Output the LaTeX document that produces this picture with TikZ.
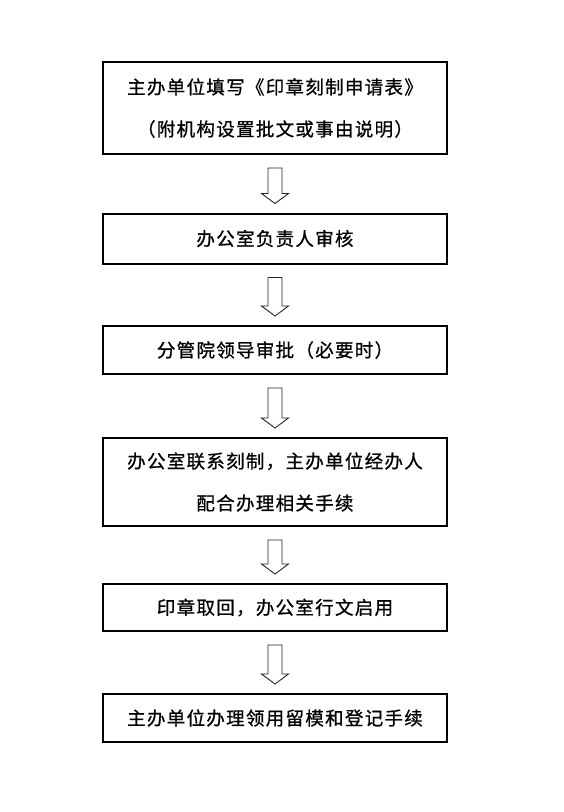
\documentclass[tikz,border=0pt]{standalone}
\usepackage{fontspec}
\newfontfamily\cjk[LetterSpace=7,FakeBold=0.8]{Noto Sans CJK SC}
\usetikzlibrary{calc}
\tikzset{
  stepbox/.style={draw,line width=2pt,minimum width=344pt,inner sep=0pt,
    align=center,font=\fontsize{18.5}{42}\selectfont\cjk},
  hollow/.style={draw=black!85,line width=0.9pt,line join=miter}
}
% hollow block arrow from the bottom of one box to the top of the next
\newcommand\flowarrow[2]{%
  \draw[hollow] ($(#1.south)+(-7,13)$) -- ($(#1.south)+(7,13)$)
    -- ($(#2.north)+(7,-19)$) -- ($(#2.north)+(13.5,-19)$)
    -- ($(#2.north)+(0,-9)$) -- ($(#2.north)+(-13.5,-19)$)
    -- ($(#2.north)+(-7,-19)$) -- cycle;}

\begin{document}
\begin{tikzpicture}[x=1pt,y=-1pt]
\useasboundingbox (0,0) rectangle (564,812);
% the six steps
\node[stepbox,minimum height=92pt] (apply) at (275,108)
  {主办单位填写《印章刻制申请表》\\（附机构设置批文或事由说明）};
\node[stepbox,minimum height=50pt] (office) at (275,238.5) {办公室负责人审核};
\node[stepbox,minimum height=48pt] (leader) at (275,350) {分管院领导审批（必要时）};
\node[stepbox,minimum height=88pt] (carve) at (275,482)
  {办公室联系刻制，主办单位经办人\\配合办理相关手续};
\node[stepbox,minimum height=47pt] (fetch) at (275,607.5) {印章取回，办公室行文启用};
\node[stepbox,minimum height=48pt] (record) at (275,718) {主办单位办理领用留模和登记手续};
% arrows between steps
\flowarrow{apply}{office}
\flowarrow{office}{leader}
\flowarrow{leader}{carve}
\flowarrow{carve}{fetch}
\flowarrow{fetch}{record}
\end{tikzpicture}
\end{document}
